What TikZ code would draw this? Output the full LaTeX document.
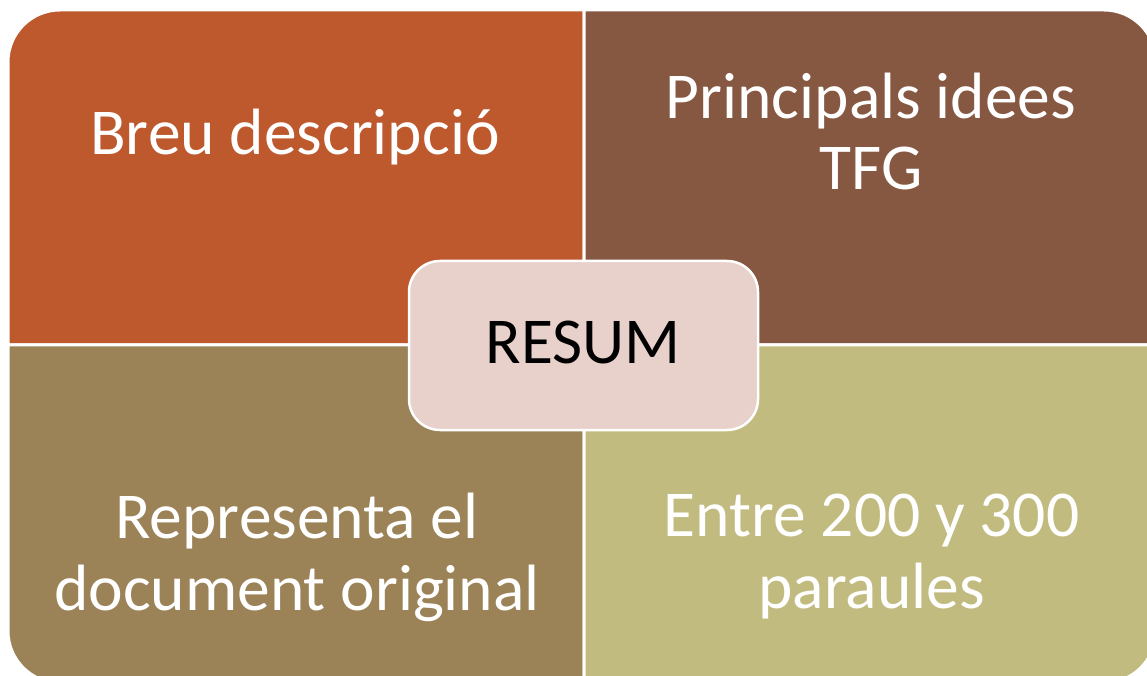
\documentclass[tikz,border=0pt]{standalone}
\usepackage{fontspec}
\setmainfont{Carlito}
\definecolor{qtl}{HTML}{BE582D}
\definecolor{qtr}{HTML}{865741}
\definecolor{qbl}{HTML}{9B8257}
\definecolor{qbr}{HTML}{C2BB80}
\definecolor{qcen}{HTML}{E8D0CB}
\begin{document}
\begin{tikzpicture}[x=1pt,y=1pt,
  quad/.style={draw=white,line width=3pt},
  qtext/.style={text=white,font=\fontsize{65.5}{71.5}\selectfont,align=center,anchor=base,inner sep=0pt},
  cenbox/.style={draw=white,line width=2.5pt,fill=qcen,rounded corners=31pt}]
\useasboundingbox (0,0) rectangle (1147,675);
\clip (0,0) rectangle (1147,675);
\fill[white] (0,0) rectangle (1147,675);
% quadrants
\filldraw[quad,fill=qtl] (8,330) -- (8,613) arc[start angle=180,end angle=90,radius=52] -- (584,665) -- (584,330) -- cycle;
\filldraw[quad,fill=qtr] (584,665) -- (1104,665) arc[start angle=90,end angle=0,radius=52] -- (1156,330) -- (584,330) -- cycle;
\filldraw[quad,fill=qbl] (8,330) -- (584,330) -- (584,-8) -- (60,-8) arc[start angle=270,end angle=180,radius=52] -- cycle;
\filldraw[quad,fill=qbr] (584,330) -- (1156,330) -- (1156,44) arc[start angle=0,end angle=-90,radius=52] -- (584,-8) -- cycle;
% texts (base anchor = baseline of last line)
\node[qtext] (tl) at (295,520) {Breu descripció};
\node[qtext] (tr) at (871,485) {Principals idees\\TFG};
\node[qtext] (bl) at (297,65) {Representa el\\document original};
\node[qtext] (br) at (871.5,67) {Entre 200 y 300\\paraules};
% center
\draw[cenbox] (409,245) rectangle (758,414);
\node[qtext,text=black] (resum) at (583,311) {RESUM};
\end{tikzpicture}
\end{document}
